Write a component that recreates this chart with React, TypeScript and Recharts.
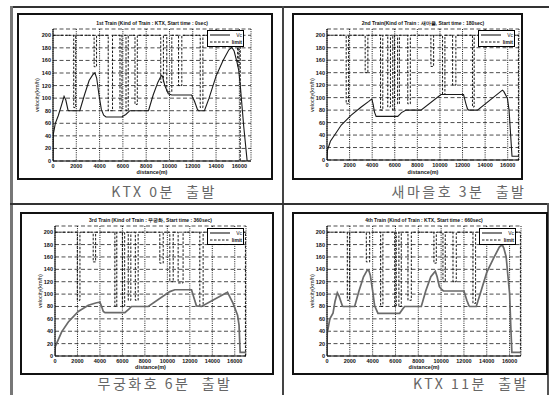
import React from 'react';
import { LineChart, Line, XAxis, YAxis, CartesianGrid } from 'recharts';

const xTicks = [0, 2000, 4000, 6000, 8000, 10000, 12000, 14000, 16000];
const yTicks = [0, 20, 40, 60, 80, 100, 120, 140, 160, 180, 200];

const titles = [
  '1st Train (Kind of Train : KTX, Start time : 0sec)',
  '2nd Train(Kind of Train : 새마을, Start time : 180sec)',
  '3rd Train (Kind of Train : 무궁화, Start time : 360sec)',
  '4th Train (Kind of Train : KTX, Start time : 660sec)',
];
const captions = ['KTX 0분  출발', '새마을호 3분  출발', '무궁화호 6분  출발', 'KTX 11분  출발'];
const xLabel = 'distance(m)';
const yLabel = 'velocity(km/h)';
const legendNames = ['Vc', 'limit'];

// Vc: [distance (m), velocity (km/h)]
const vc1 = [
  [0, 0], [20, 42], [200, 60], [450, 72], [750, 90], [950, 103], [1100, 97], [1290, 81], [1350, 80],
  [2300, 80], [2700, 105], [3100, 128], [3450, 138], [3600, 140], [3750, 132], [3950, 105], [4150, 82],
  [4350, 73], [4550, 70], [5900, 70], [6250, 74], [6600, 80], [8200, 80], [8600, 105], [9000, 125],
  [9300, 136], [9400, 135], [9600, 120], [9900, 107], [10200, 105], [11900, 105], [12150, 95],
  [12400, 82], [12500, 80], [13000, 80], [13400, 100], [14000, 135], [14600, 160], [15100, 177],
  [15350, 181], [15550, 175], [15800, 157], [15950, 144], [16090, 118], [16380, 54], [16670, 0],
];
const vc2 = [
  [0, 0], [30, 15], [300, 30], [676, 40], [1265, 56], [2147, 72], [3030, 85], [3700, 94], [3970, 98],
  [4100, 88], [4200, 77], [4350, 70], [6265, 70], [6600, 76], [7000, 80], [8320, 80], [10090, 105],
  [12090, 105], [12300, 90], [12440, 82], [12550, 80], [13320, 80], [15530, 112], [15650, 110],
  [15970, 99], [16120, 80], [16260, 40], [16380, 6], [17000, 6],
];
const vc3 = [
  [0, 0], [20, 15], [593, 39], [1185, 55], [2074, 72], [2963, 82], [3700, 86], [4000, 87], [4150, 80],
  [4300, 72], [4450, 70], [6220, 70], [6600, 76], [6815, 80], [8300, 80], [10220, 104], [10667, 107],
  [12150, 107], [12400, 92], [12590, 81], [13040, 80], [15260, 102], [15350, 103], [15850, 85],
  [16250, 66], [16380, 50], [16480, 6], [17000, 6],
];
const vc4 = [
  [0, 0], [20, 37], [250, 60], [525, 69], [700, 88], [905, 102], [1050, 97], [1343, 81], [1400, 80],
  [2423, 80], [2800, 105], [3200, 128], [3500, 138], [3650, 139], [3800, 130], [4000, 105], [4175, 81],
  [4467, 69], [6365, 69], [6600, 75], [6800, 80], [8263, 80], [8650, 105], [9100, 128], [9489, 137],
  [9650, 128], [9850, 112], [10015, 108], [10200, 105], [12000, 105], [12250, 90], [12440, 81],
  [12500, 80], [13080, 80], [13500, 105], [14000, 135], [14600, 158], [15100, 176], [15357, 180],
  [15500, 174], [15700, 160], [15850, 130], [16000, 101], [16100, 50], [16200, 6], [17000, 6],
];

// limit: dips below 200 km/h as [from (m), to (m), lower limit (km/h)], then final drop
const dips1 = [
  [1780, 1950, 85], [3530, 3740, 150], [4740, 5110, 80], [5750, 5920, 80], [6270, 6460, 80],
  [7040, 7240, 90], [9250, 9480, 125], [9770, 10200, 110], [10780, 11060, 120], [12640, 12870, 85],
  [15850, 15950, 150],
];
const end1 = 16080;
const dips2 = [
  [1700, 1910, 90], [3380, 3620, 140], [4740, 4940, 80], [5380, 5620, 85], [5820, 5970, 80],
  [6250, 6410, 90], [7150, 7380, 90], [9200, 9440, 150], [10230, 10440, 105], [11120, 11410, 120],
  [12880, 13030, 85],
];
const end2 = 16950;
const dips3 = [
  [1985, 2220, 90], [3400, 3615, 152], [5330, 5500, 80], [6000, 6200, 80], [6520, 6750, 90],
  [7150, 7400, 90], [9330, 9630, 150], [10220, 10520, 120], [10960, 11400, 118], [12890, 13185, 80],
];
const end3 = 16950;
const dips4 = [
  [1780, 1985, 90], [3445, 3740, 152], [4700, 4900, 80], [5930, 6070, 80], [6300, 6510, 80],
  [7095, 7390, 90], [9370, 9580, 150], [10160, 10365, 120], [11040, 11330, 120], [12790, 13020, 85],
];
const end4 = 16950;

const vcSeries = [vc1, vc2, vc3, vc4];
const dipSeries = [dips1, dips2, dips3, dips4];
const endSeries = [end1, end2, end3, end4];

const toPoints = (arr: number[][]) => arr.map(([d, v]) => ({ d, v }));
const stepLimit = (dips: number[][], end: number) => {
  const pts = [{ d: 0, v: 200 }];
  for (const [s, e, low] of dips) {
    pts.push({ d: s, v: 200 }, { d: s, v: low }, { d: e, v: low }, { d: e, v: 200 });
  }
  pts.push({ d: end, v: 200 }, { d: end, v: 0 });
  return pts;
};

const layouts = [
  { frame: { left: 17, top: 13, width: 256, height: 167 }, plot: { left: 53, right: 251, top: 29, bottom: 161 }, legend: { left: 207, top: 30 }, titleY: 23, xlabelY: 172, ylabelX: 37, caption: { x: 164, y: 191 }, vcColor: '#1a1a1a', vcWidth: 1.1 },
  { frame: { left: 292, top: 13, width: 231, height: 167 }, plot: { left: 327, right: 519, top: 29, bottom: 160 }, legend: { left: 478, top: 30 }, titleY: 23, xlabelY: 172, ylabelX: 312, caption: { x: 459, y: 191 }, vcColor: '#1a1a1a', vcWidth: 1.1 },
  { frame: { left: 20, top: 212, width: 254, height: 163 }, plot: { left: 55, right: 246, top: 226, bottom: 356 }, legend: { left: 207, top: 228 }, titleY: 220, xlabelY: 367, ylabelX: 40, caption: { x: 165, y: 383 }, vcColor: '#6a6a6a', vcWidth: 1.7 },
  { frame: { left: 292, top: 212, width: 256, height: 163 }, plot: { left: 327, right: 521, top: 226, bottom: 356 }, legend: { left: 479, top: 228 }, titleY: 220, xlabelY: 367, ylabelX: 312, caption: { x: 471, y: 383 }, vcColor: '#6a6a6a', vcWidth: 1.7 },
];

const YW = 18;
const XH = 10;
const tickStyle = { fontSize: 5.5, fontFamily: 'Arial, "Liberation Sans", sans-serif', fontWeight: 700, fill: '#111' };
const smallText: React.CSSProperties = { position: 'absolute', fontFamily: 'Arial, "Liberation Sans", sans-serif', fontWeight: 700, color: '#111', whiteSpace: 'nowrap', textAlign: 'center' };

function SubPlot({ i }: { i: number }) {
  const L = layouts[i];
  const f = L.frame;
  const p = L.plot;
  const margin = {
    left: p.left - f.left - YW,
    right: f.left + f.width - p.right,
    top: p.top - f.top,
    bottom: f.top + f.height - p.bottom - XH,
  };
  const vc = toPoints(vcSeries[i]);
  const lim = stepLimit(dipSeries[i], endSeries[i]);
  const cx = (p.left + p.right) / 2;
  const cy = (p.top + p.bottom) / 2;
  return (
    <>
      <div style={{ position: 'absolute', left: f.left, top: f.top, width: f.width, height: f.height, boxSizing: 'border-box', border: '2px solid #111' }} />
      <div style={{ position: 'absolute', left: f.left, top: f.top }}>
        <LineChart width={f.width} height={f.height} margin={margin}>
          <CartesianGrid horizontal vertical={false} stroke="#000" strokeWidth={0.7} strokeDasharray="4 2.5" />
          <CartesianGrid horizontal={false} vertical stroke="#000" strokeWidth={0.9} strokeDasharray="1 1.2" />
          <XAxis dataKey="d" type="number" domain={[0, 17000]} ticks={xTicks} allowDataOverflow interval={0}
            height={XH} tick={tickStyle} tickLine={false} tickSize={2} tickMargin={1} axisLine={{ stroke: '#000', strokeWidth: 1 }} />
          <YAxis dataKey="v" type="number" domain={[0, 210]} ticks={yTicks} allowDataOverflow interval={0}
            width={YW} tick={tickStyle} tickLine={false} tickSize={0} tickMargin={2} axisLine={{ stroke: '#000', strokeWidth: 1 }} />
          <Line data={lim} dataKey="v" type="linear" stroke="#000" strokeWidth={0.9} strokeDasharray="2.5 1.5" dot={false} isAnimationActive={false} />
          <Line data={vc} dataKey="v" type="linear" stroke={L.vcColor} strokeWidth={L.vcWidth} dot={false} isAnimationActive={false} />
        </LineChart>
      </div>
      <div style={{ ...smallText, left: cx - 150, width: 300, top: L.titleY - 3, fontSize: 5, lineHeight: '6px' }}>{titles[i]}</div>
      <div style={{ ...smallText, left: cx - 50, width: 100, top: L.xlabelY - 3, fontSize: 5.5, lineHeight: '6px' }}>{xLabel}</div>
      <div style={{ ...smallText, left: L.ylabelX - 40, width: 80, top: cy - 3, fontSize: 5.5, lineHeight: '6px', transform: 'rotate(-90deg)', fontWeight: 400 }}>{yLabel}</div>
      <div style={{ position: 'absolute', left: L.legend.left, top: L.legend.top, width: 37, height: 17, boxSizing: 'border-box', border: '1px solid #000', background: '#fff' }}>
        <svg width={22} height={15} style={{ position: 'absolute', left: 1, top: 0 }}>
          <line x1={1} y1={4} x2={21} y2={4} stroke={L.vcColor} strokeWidth={L.vcWidth} />
          <line x1={1} y1={11} x2={21} y2={11} stroke="#000" strokeWidth={0.9} strokeDasharray="2.5 1.5" />
        </svg>
        <div style={{ ...smallText, left: 22, top: 1, width: 12, fontSize: 5, lineHeight: '6px', textAlign: 'right', fontWeight: 400 }}>{legendNames[0]}</div>
        <div style={{ ...smallText, left: 21, top: 8, width: 13, fontSize: 5, lineHeight: '6px', textAlign: 'right' }}>{legendNames[1]}</div>
      </div>
      <div style={{ position: 'absolute', left: L.caption.x - 100, width: 200, top: L.caption.y - 10, height: 20, lineHeight: '20px', textAlign: 'center', fontFamily: '"Noto Sans CJK KR", sans-serif', fontSize: 14, letterSpacing: 2.5, color: '#666', whiteSpace: 'pre' }}>{captions[i]}</div>
    </>
  );
}

export default function App() {
  return (
    <div style={{ position: 'absolute', left: 0, top: 0, width: 549, height: 395, background: '#fff', overflow: 'hidden' }}>
      <div style={{ position: 'absolute', left: 10, top: 6, width: 539, height: 1.5, background: '#333' }} />
      <div style={{ position: 'absolute', left: 10, top: 6, width: 2.5, height: 389, background: '#777' }} />
      <div style={{ position: 'absolute', left: 282, top: 6, width: 1.5, height: 389, background: '#444' }} />
      <div style={{ position: 'absolute', left: 10, top: 203, width: 539, height: 1.5, background: '#333' }} />
      <div style={{ position: 'absolute', left: 547, top: 203, width: 2, height: 192, background: '#555' }} />
      {[0, 1, 2, 3].map((i) => <SubPlot key={i} i={i} />)}
    </div>
  );
}
